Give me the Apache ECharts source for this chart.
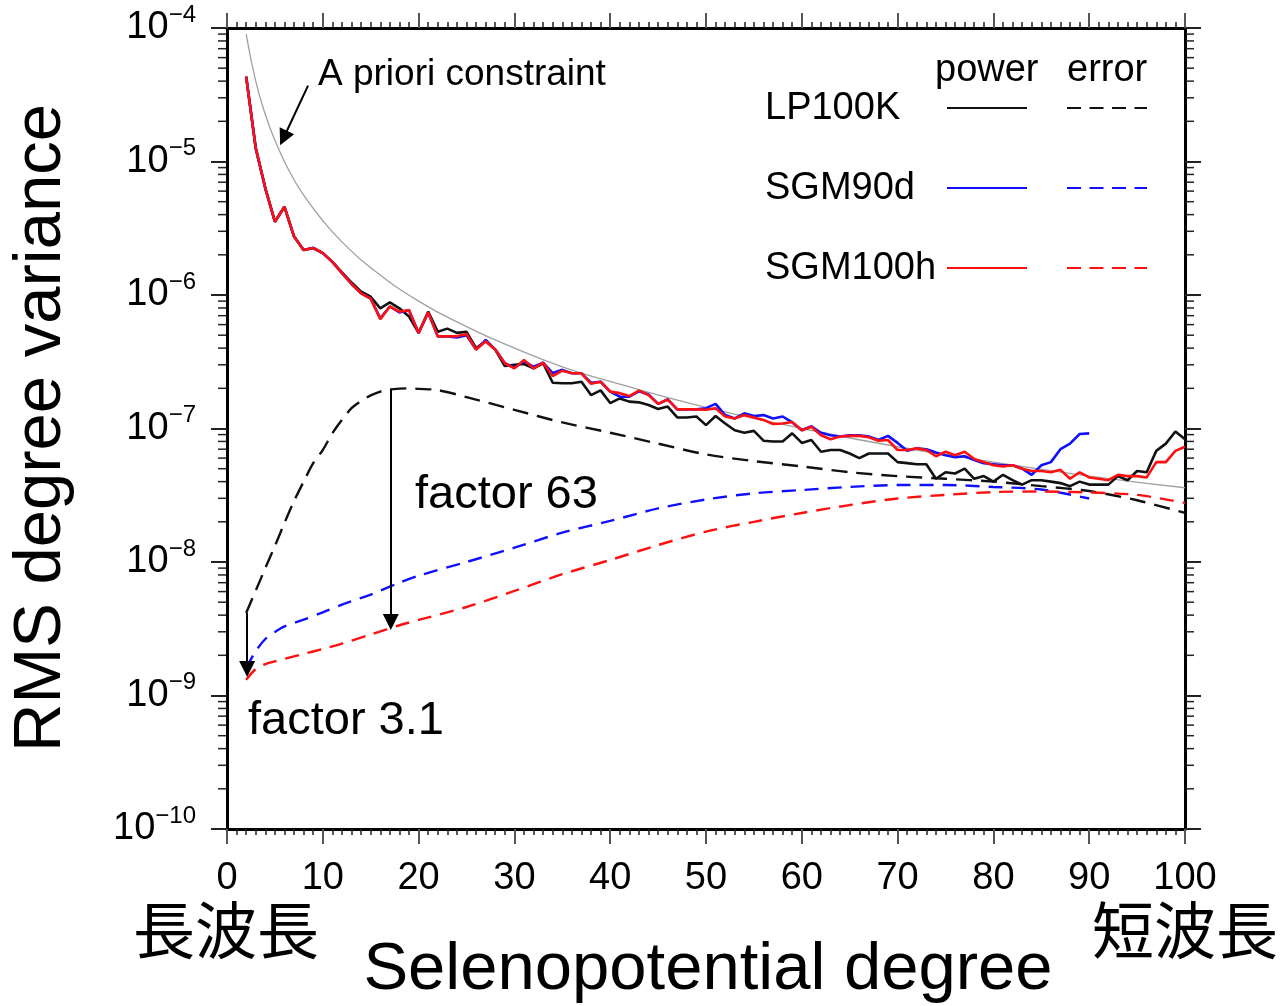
<!DOCTYPE html>
<html>
<head>
  <meta charset="UTF-8">
  <title>RMS degree variance</title>
  <script src="https://cdn.jsdelivr.net/npm/echarts@6/dist/echarts.min.js"></script>
  <style>
    html, body { margin: 0; padding: 0; background: #fff; }
    #chart { width: 1281px; height: 1006px; }
  </style>
</head>
<body>
  <div id="chart"></div>
  <script>
    // power spectra, one value per degree starting at degree 2
    var firstDegree = 2;
    var lp100kPower = [
      4.32e-5, 1.26e-5, 6.3e-6, 3.54e-6, 4.58e-6, 2.74e-6, 2.17e-6, 2.25e-6, 2.06e-6, 1.77e-6,
      1.48e-6, 1.24e-6, 1.06e-6, 9.7e-7, 7.95e-7, 8.8e-7, 7.95e-7, 6.9e-7, 5.2e-7, 7.5e-7,
      5.3e-7, 5.6e-7, 5.2e-7, 5.3e-7, 4.0e-7, 4.5e-7, 3.9e-7, 2.94e-7, 3.0e-7, 3.04e-7,
      2.82e-7, 3.08e-7, 2.2e-7, 2.18e-7, 2.18e-7, 2.24e-7, 1.78e-7, 1.93e-7, 1.55e-7, 1.68e-7,
      1.59e-7, 1.57e-7, 1.5e-7, 1.4e-7, 1.46e-7, 1.21e-7, 1.21e-7, 1.23e-7, 1.06e-7, 1.24e-7,
      1.09e-7, 9.7e-8, 9.3e-8, 9.6e-8, 8.1e-8, 8.0e-8, 8.0e-8, 9.2e-8, 7.8e-8, 8.2e-8,
      6.7e-8, 6.9e-8, 6.9e-8, 6.5e-8, 6.0e-8, 6.5e-8, 6.5e-8, 6.5e-8, 5.6e-8, 5.5e-8,
      5.4e-8, 5.4e-8, 4.2e-8, 4.7e-8, 4.6e-8, 5.0e-8, 4.2e-8, 4.4e-8, 4.0e-8, 4.5e-8,
      4.1e-8, 3.8e-8, 4.1e-8, 4.1e-8, 4.0e-8, 3.9e-8, 3.7e-8, 4.0e-8, 3.8e-8, 3.8e-8,
      3.8e-8, 4.4e-8, 4.1e-8, 4.8e-8, 4.7e-8, 6.8e-8, 7.7e-8, 9.5e-8, 8.3e-8
    ];
    var sgm90dPower = [
      4.32e-5, 1.26e-5, 6.3e-6, 3.54e-6, 4.58e-6, 2.74e-6, 2.17e-6, 2.25e-6, 2.06e-6, 1.77e-6,
      1.46e-6, 1.21e-6, 1.03e-6, 9.4e-7, 6.7e-7, 8.2e-7, 7.4e-7, 7.7e-7, 5.2e-7, 7.4e-7,
      4.9e-7, 4.9e-7, 4.8e-7, 5.0e-7, 3.9e-7, 4.6e-7, 3.9e-7, 3.08e-7, 2.85e-7, 3.2e-7,
      2.9e-7, 3.11e-7, 2.6e-7, 2.75e-7, 2.59e-7, 2.59e-7, 2.2e-7, 2.24e-7, 1.89e-7, 1.73e-7,
      1.73e-7, 1.9e-7, 1.8e-7, 1.53e-7, 1.65e-7, 1.39e-7, 1.39e-7, 1.39e-7, 1.42e-7, 1.53e-7,
      1.26e-7, 1.19e-7, 1.30e-7, 1.24e-7, 1.26e-7, 1.19e-7, 1.23e-7, 1.11e-7, 9.7e-8, 1.04e-7,
      9.3e-8, 8.9e-8, 8.7e-8, 8.9e-8, 8.9e-8, 8.7e-8, 8.2e-8, 8.8e-8, 7.8e-8, 6.8e-8,
      7.1e-8, 7.0e-8, 6.6e-8, 6.3e-8, 6.1e-8, 6.2e-8, 5.8e-8, 5.5e-8, 5.4e-8, 5.3e-8,
      5.3e-8, 5.0e-8, 4.5e-8, 5.3e-8, 5.6e-8, 7.0e-8, 7.7e-8, 9.1e-8, 9.2e-8
    ];
    var sgm100hPower = [
      4.32e-5, 1.26e-5, 6.3e-6, 3.54e-6, 4.58e-6, 2.74e-6, 2.17e-6, 2.25e-6, 2.06e-6, 1.77e-6,
      1.46e-6, 1.21e-6, 1.03e-6, 9.4e-7, 6.6e-7, 8.2e-7, 7.5e-7, 7.7e-7, 5.2e-7, 7.4e-7,
      4.9e-7, 4.9e-7, 4.9e-7, 5.1e-7, 3.9e-7, 4.5e-7, 3.9e-7, 3.08e-7, 2.82e-7, 3.26e-7,
      2.82e-7, 3.11e-7, 2.47e-7, 2.71e-7, 2.59e-7, 2.59e-7, 2.16e-7, 2.24e-7, 1.89e-7, 1.84e-7,
      1.75e-7, 1.92e-7, 1.78e-7, 1.53e-7, 1.65e-7, 1.39e-7, 1.39e-7, 1.39e-7, 1.38e-7, 1.42e-7,
      1.23e-7, 1.19e-7, 1.26e-7, 1.21e-7, 1.16e-7, 1.08e-7, 1.09e-7, 1.12e-7, 9.7e-8, 1.03e-7,
      8.9e-8, 8.3e-8, 8.7e-8, 8.8e-8, 8.8e-8, 8.6e-8, 8.1e-8, 8.2e-8, 6.9e-8, 6.9e-8,
      7.1e-8, 6.9e-8, 6.2e-8, 6.7e-8, 6.3e-8, 6.7e-8, 5.9e-8, 5.6e-8, 5.3e-8, 5.2e-8,
      5.3e-8, 5.0e-8, 4.8e-8, 4.8e-8, 4.7e-8, 4.9e-8, 4.2e-8, 4.7e-8, 4.3e-8, 4.2e-8,
      4.1e-8, 4.5e-8, 4.4e-8, 4.4e-8, 4.3e-8, 5.6e-8, 5.6e-8, 6.8e-8, 7.3e-8
    ];

    // error spectra, read at selected degrees
    var lp100kErrDeg = [2, 3, 4, 5, 6, 7, 8, 9, 10, 11, 12, 13, 14, 15, 16, 17, 18, 19, 20, 22, 25,
      30, 35, 40, 45, 50, 55, 60, 65, 70, 75, 80, 85, 90, 95, 100];
    var lp100kErr = [4.15e-9, 6.1e-9, 9.0e-9, 1.32e-8, 1.96e-8, 2.86e-8, 4.0e-8, 5.5e-8, 6.9e-8,
      9.2e-8, 1.16e-7, 1.42e-7, 1.61e-7, 1.77e-7, 1.89e-7, 1.96e-7, 1.99e-7, 2.0e-7, 1.98e-7,
      1.94e-7, 1.72e-7, 1.38e-7, 1.11e-7, 9.3e-8, 7.7e-8, 6.4e-8, 5.7e-8, 5.2e-8, 4.7e-8, 4.4e-8,
      4.2e-8, 4.0e-8, 3.7e-8, 3.4e-8, 2.9e-8, 2.33e-8];
    var sgm90dErrDeg = [2, 3, 4, 5, 6, 8, 10, 12, 15, 18, 20, 25, 30, 35, 40, 45, 50, 55, 60, 65,
      70, 75, 80, 85, 90];
    var sgm90dErr = [1.61e-9, 2.15e-9, 2.65e-9, 2.99e-9, 3.3e-9, 3.7e-9, 4.2e-9, 4.8e-9, 5.7e-9,
      7.0e-9, 7.9e-9, 1.0e-8, 1.28e-8, 1.66e-8, 2.03e-8, 2.52e-8, 2.94e-8, 3.27e-8, 3.46e-8,
      3.65e-8, 3.77e-8, 3.77e-8, 3.65e-8, 3.49e-8, 2.99e-8];
    var sgm100hErrDeg = [2, 3, 4, 5, 6, 8, 10, 12, 15, 18, 20, 25, 30, 35, 40, 45, 50, 55, 60, 65,
      70, 75, 80, 85, 90, 95, 100];
    var sgm100hErr = [1.31e-9, 1.58e-9, 1.72e-9, 1.80e-9, 1.88e-9, 2.05e-9, 2.23e-9, 2.45e-9,
      2.86e-9, 3.36e-9, 3.68e-9, 4.6e-9, 6.07e-9, 8.1e-9, 1.035e-8, 1.34e-8, 1.69e-8, 2.0e-8,
      2.33e-8, 2.67e-8, 2.99e-8, 3.18e-8, 3.34e-8, 3.37e-8, 3.32e-8, 3.18e-8, 2.77e-8];

    // a priori constraint (grey curve)
    var aprioriDeg = [2, 3, 4, 5, 6, 7, 8, 10, 12, 15, 20, 25, 30, 35, 40, 50, 60, 70, 80, 90, 100];
    var apriori = [9.0e-5, 4.0e-5, 2.25e-5, 1.44e-5, 1.0e-5, 7.3e-6, 5.6e-6, 3.6e-6, 2.5e-6,
      1.6e-6, 9.0e-7, 5.8e-7, 4.0e-7, 2.9e-7, 2.25e-7, 1.44e-7, 1.0e-7, 7.3e-8, 5.6e-8, 4.4e-8, 3.6e-8];

    // annotation arrows [degree, value] start -> end
    var arrowStarts = [[8.46, 3.7e-5], [17.1, 1.98e-7], [2.1, 4.15e-9]];
    var arrowEnds = [[5.9, 1.5e-5], [17.1, 3.55e-9], [2.1, 1.58e-9]];

    var legendNames = ['LP100K', 'SGM90d', 'SGM100h'];
    var legendColors = ['#111111', '#1010ff', '#ff1010'];

    function byDegree(values, start) {
      return values.map(function (v, i) { return [start + i, v]; });
    }
    function zip(xs, ys) {
      return xs.map(function (x, i) { return [x, ys[i]]; });
    }

    // 2..9 x 10^e minor ticks for the log axis
    var logMinorTicks = [];
    for (var e = -10; e < -4; e++) {
      for (var k = 2; k <= 9; k++) logMinorTicks.push([0, k * Math.pow(10, e)]);
    }

    var FONT = '"Liberation Sans", Arial, sans-serif';
    var CJK = '"Noto Sans CJK JP", sans-serif';

    var chart = echarts.init(document.getElementById('chart'), null, {renderer: 'canvas'});

    function valueAxis(pos, showLabel) {
      return {
        type: 'value', position: pos, min: 0, max: 100, interval: 10,
        axisLine: {show: true, onZero: false, lineStyle: {color: '#000', width: 3}},
        axisTick: {show: true, inside: false, length: 15, lineStyle: {color: '#555', width: 2}},
        minorTick: {show: true, splitNumber: 10, length: 6, lineStyle: {color: '#222', width: 1.5}},
        splitLine: {show: false},
        minorSplitLine: {show: false},
        axisLabel: {show: showLabel, margin: 31, fontSize: 38, lineHeight: 38, color: '#000', fontFamily: FONT}
      };
    }
    function logAxis(pos, showLabel) {
      return {
        type: 'log', logBase: 10, position: pos, min: 1e-10, max: 1e-4, splitNumber: 6,
        axisLine: {show: true, onZero: false, lineStyle: {color: '#000', width: 3}},
        axisTick: {show: true, inside: false, length: 16, lineStyle: {color: '#222', width: 2}},
        splitLine: {show: false},
        axisLabel: {
          show: showLabel, margin: 31, color: '#000', fontFamily: FONT,
          formatter: function (v) {
            var p = Math.round(Math.log10(v));
            return '{b|10}{s|\u2212' + Math.abs(p) + '}';
          },
          rich: {
            b: {fontSize: 38, fontFamily: FONT, color: '#000'},
            s: {fontSize: 24, fontFamily: FONT, color: '#000', padding: [0, 0, 26, 0]}
          }
        }
      };
    }

    function textEl(text, x, y, size, opts) {
      opts = opts || {};
      return {
        type: 'text', x: x, y: y, rotation: opts.rotation || 0, silent: true,
        style: {
          text: text, font: size + 'px ' + (opts.family || FONT), fill: '#000',
          textAlign: opts.align || 'left', align: opts.align || 'left',
          textVerticalAlign: 'middle', verticalAlign: 'middle'
        }
      };
    }
    function lineEl(x1, x2, y, color, dashed) {
      return {
        type: 'line', silent: true,
        shape: {x1: x1, y1: y, x2: x2, y2: y},
        style: {stroke: color, lineWidth: 2, lineDash: dashed ? [14, 8.5] : null}
      };
    }

    var graphics = [
      textEl('A priori constraint', 318, 75, 37),
      textEl('factor 63', 415, 495, 47),
      textEl('factor 3.1', 248, 721, 47),
      textEl('power', 935, 71, 38),
      textEl('error', 1067, 71, 38),
      textEl('長波長', 133, 930, 62, {family: CJK}),
      textEl('短波長', 1092, 930, 62, {family: CJK}),
      textEl('Selenopotential degree', 708, 971, 67, {align: 'center'}),
      textEl('RMS degree variance', 42, 428, 67, {align: 'center', rotation: Math.PI / 2})
    ];
    legendNames.forEach(function (name, i) {
      var y = 108 + 80 * i;
      graphics.push(textEl(name, 765, y + 1, 38));
      graphics.push(lineEl(947, 1027, y, legendColors[i], false));
      graphics.push(lineEl(1067, 1147, y, legendColors[i], true));
    });

    function lineSeries(name, data, color, width, dash, extra) {
      var s = {
        name: name, type: 'line', data: data, showSymbol: false, symbol: 'none',
        silent: true, animation: false,
        lineStyle: {color: color, width: width, type: dash || 'solid'}
      };
      for (var key in extra) s[key] = extra[key];
      return s;
    }

    chart.setOption({
      backgroundColor: '#fff',
      animation: false,
      grid: {left: 227, right: 96, top: 28, bottom: 177, containLabel: false, outerBoundsMode: 'none'},
      xAxis: [valueAxis('bottom', true), valueAxis('top', false)],
      yAxis: [logAxis('left', true), logAxis('right', false)],
      graphic: graphics,
      series: [
        lineSeries('A priori', zip(aprioriDeg, apriori), '#a0a0a0', 1.3, null, {
          smooth: true,
          markLine: {
            silent: true, animation: false,
            symbol: ['none', 'triangle'], symbolSize: 16,
            label: {show: false},
            lineStyle: {color: '#000', width: 2, type: 'solid'},
            data: arrowStarts.map(function (s, i) {
              return [{coord: s}, {coord: arrowEnds[i]}];
            })
          }
        }),
        lineSeries('LP100K error', zip(lp100kErrDeg, lp100kErr), '#111', 2.4, [16, 9], {smooth: 0.3}),
        lineSeries('SGM90d error', zip(sgm90dErrDeg, sgm90dErr), '#1010ff', 2.4, [14, 9], {smooth: 0.3}),
        lineSeries('SGM100h error', zip(sgm100hErrDeg, sgm100hErr), '#ff1010', 2.4, [14, 9], {smooth: 0.3}),
        lineSeries('LP100K', byDegree(lp100kPower, firstDegree), '#111', 2.6),
        lineSeries('SGM90d', byDegree(sgm90dPower, firstDegree), '#1010ff', 2.6),
        lineSeries('SGM100h', byDegree(sgm100hPower, firstDegree), '#ff1010', 2.6),
        {
          type: 'custom', silent: true, animation: false, clip: false,
          data: logMinorTicks,
          renderItem: function (params, api) {
            var l = api.coord([0, api.value(1)]);
            var r = api.coord([100, api.value(1)]);
            return {
              type: 'group',
              children: [
                {type: 'line', shape: {x1: l[0] - 9, y1: l[1], x2: l[0] - 1, y2: l[1]},
                  style: {stroke: '#222', lineWidth: 1.5}},
                {type: 'line', shape: {x1: r[0] + 1, y1: r[1], x2: r[0] + 9, y2: r[1]},
                  style: {stroke: '#222', lineWidth: 1.5}}
              ]
            };
          }
        }
      ]
    });
  </script>
</body>
</html>
